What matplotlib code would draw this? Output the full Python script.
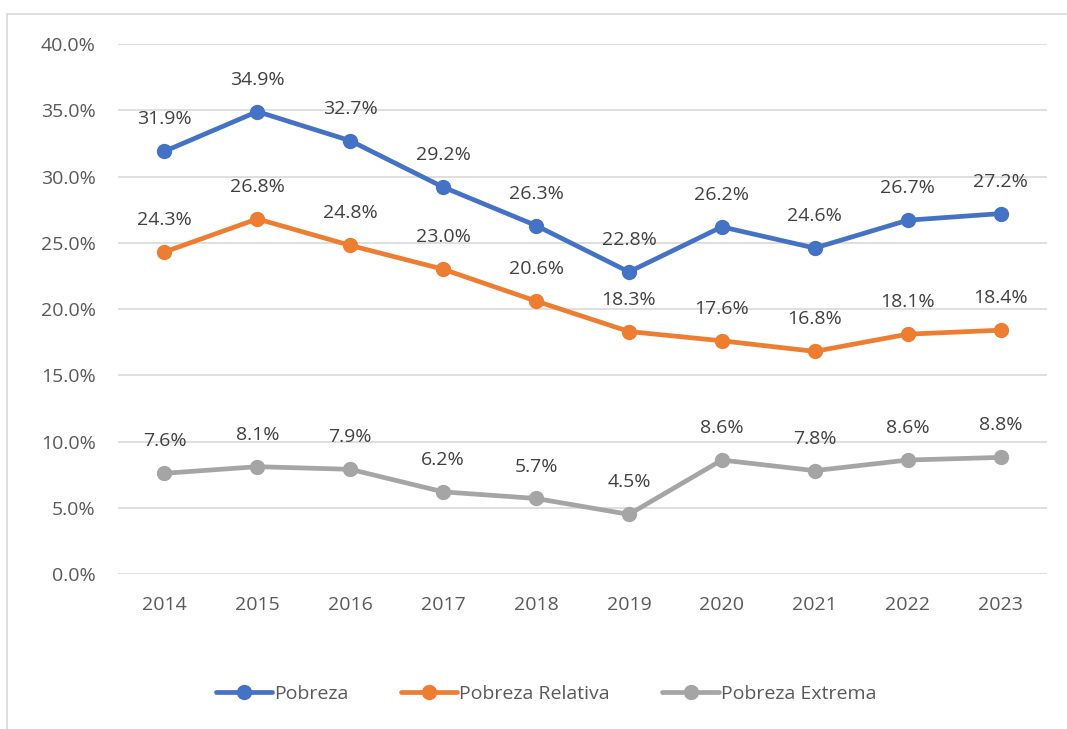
import matplotlib.pyplot as plt
from matplotlib.patches import Rectangle
from matplotlib.ticker import FuncFormatter, MultipleLocator

years = ["2014", "2015", "2016", "2017", "2018", "2019", "2020", "2021", "2022", "2023"]
pobreza = [31.9, 34.9, 32.7, 29.2, 26.3, 22.8, 26.2, 24.6, 26.7, 27.2]
pobreza_relativa = [24.3, 26.8, 24.8, 23.0, 20.6, 18.3, 17.6, 16.8, 18.1, 18.4]
pobreza_extrema = [7.6, 8.1, 7.9, 6.2, 5.7, 4.5, 8.6, 7.8, 8.6, 8.8]

series = [
    ("Pobreza", pobreza, "#4472C4"),
    ("Pobreza Relativa", pobreza_relativa, "#ED7D31"),
    ("Pobreza Extrema", pobreza_extrema, "#A5A5A5"),
]

plt.rcParams['font.family'] = ['Open Sans', 'DejaVu Sans']
FS = 14

W, H = 1067, 729
fig = plt.figure(figsize=(W / 100, H / 100), dpi=100)
ax = fig.add_axes([118 / W, 1 - 574 / H, (1047 - 118) / W, (574 - 44) / H])

x = list(range(len(years)))
for name, vals, col in series:
    ax.plot(x, vals, color=col, lw=3.4, marker='o', markersize=10, label=name,
            solid_capstyle='round', zorder=3)
    for xi, v in zip(x, vals):
        ax.annotate(f"{v:.1f}%", (xi, v), xytext=(0, 23), textcoords='offset points',
                    ha='center', va='center', fontsize=FS, color='#404040')

ax.set_xlim(-0.5, len(years) - 0.5)
ax.set_ylim(0, 40)
ax.yaxis.set_major_locator(MultipleLocator(5))
ax.yaxis.set_major_formatter(FuncFormatter(lambda v, p: f"{v:.1f}%"))
ax.set_xticks(x)
ax.set_xticklabels(years)
ax.grid(axis='y', color='#D9D9D9', lw=1.2)
ax.set_axisbelow(True)
for s in ax.spines.values():
    s.set_visible(False)
ax.tick_params(axis='both', length=0, labelsize=FS, labelcolor='#595959')
ax.tick_params(axis='y', pad=16)
ax.tick_params(axis='x', pad=16)

leg = fig.legend(loc='center', bbox_to_anchor=(546 / W, 1 - 694 / H), ncol=3,
                 frameon=False, fontsize=FS, handlelength=2.9, columnspacing=2.7,
                 handletextpad=0.1)
for t in leg.get_texts():
    t.set_color('#595959')

fig.patches.append(Rectangle((7 / W, -0.1), 1.2, 1 - 14 / H + 0.1, transform=fig.transFigure,
                             fill=False, edgecolor='#D9D9D9', lw=1.2))

fig.savefig("out.png", dpi=100)
